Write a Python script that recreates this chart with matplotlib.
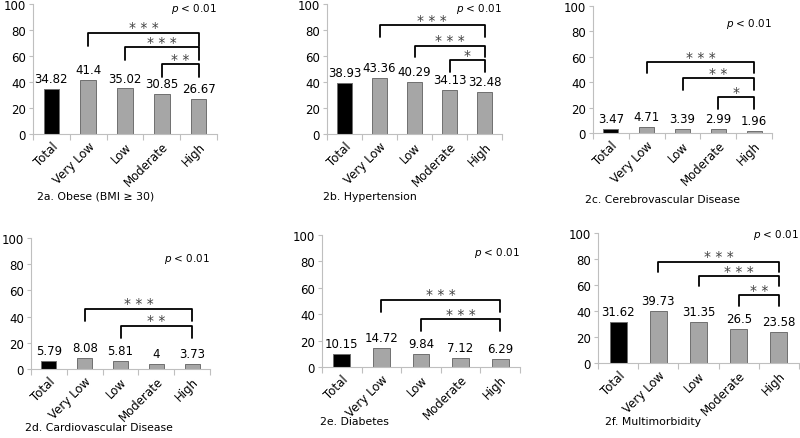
import matplotlib
matplotlib.use("Agg")
import matplotlib.pyplot as plt

plt.rcParams["font.family"] = ["Liberation Sans Narrow", "DejaVu Sans"]

# ── data ─────────────────────────────────────────────────────────────────────
categories = ["Total", "Very Low", "Low", "Moderate", "High"]

obese = [34.82, 41.4, 35.02, 30.85, 26.67]
hypertension = [38.93, 43.36, 40.29, 34.13, 32.48]
cerebro = [3.47, 4.71, 3.39, 2.99, 1.96]
cardio = [5.79, 8.08, 5.81, 4, 3.73]
diabetes = [10.15, 14.72, 9.84, 7.12, 6.29]
multimorb = [31.62, 39.73, 31.35, 26.5, 23.58]

titles = ["2a. Obese (BMI \u2265 30)", "2b. Hypertension", "2c. Cerebrovascular Disease",
          "2d. Cardiovascular Disease", "2e. Diabetes", "2f. Multimorbidity"]

# significance brackets: (from category, to category, stars)
sig_a = [("Very Low", "High", "***"), ("Low", "High", "***"), ("Moderate", "High", "**")]
sig_b = [("Very Low", "High", "***"), ("Low", "High", "***"), ("Moderate", "High", "*")]
sig_c = [("Very Low", "High", "***"), ("Low", "High", "**"), ("Moderate", "High", "*")]
sig_d = [("Very Low", "High", "***"), ("Low", "High", "**")]
sig_e = [("Very Low", "High", "***"), ("Low", "High", "***")]
sig_f = [("Very Low", "High", "***"), ("Low", "High", "***"), ("Moderate", "High", "**")]

# ── layout: axes box in px (x0, x1, ytop, ybottom), bracket tops, leg, p_y, title xy
W, H = 800, 439
panels = [
    (obese, sig_a, titles[0], (33, 217, 5, 135), [78, 67, 54], 10, 97, (37, 197)),
    (hypertension, sig_b, titles[1], (327, 502, 5, 135), [84, 68, 57], 9, 97, (323, 197)),
    (cerebro, sig_c, titles[2], (593, 772, 7, 134), [56, 43, 28], 9, 87, (585, 200)),
    (cardio, sig_d, titles[3], (31, 210, 239, 370), [46, 33], 9, 85, (25, 428)),
    (diabetes, sig_e, titles[4], (322, 520, 236, 368), [51, 36], 9, 87, (320, 422)),
    (multimorb, sig_f, titles[5], (598, 799, 234, 364), [78, 67, 52], 8, 99, (605, 422)),
]

AX_COL = "#bfbfbf"
BAR_GRAY = "#a6a6a6"

fig = plt.figure(figsize=(8, 4.39), dpi=100)

for values, sig, title, box, tops, leg, p_y, title_xy in panels:
    x0, x1, yt, yb = box
    ax = fig.add_axes([x0 / W, 1 - yb / H, (x1 - x0) / W, (yb - yt) / H])
    xs = range(len(categories))
    colors = ["black"] + [BAR_GRAY] * (len(categories) - 1)
    ax.bar(xs, values, width=0.42, color=colors, edgecolor="#6f6f6f", lw=0.7)
    for x, v in zip(xs, values):
        ax.text(x, v + 3, f"{v:g}", ha="center", va="bottom", fontsize=8.5)

    ax.set_xlim(-0.5, len(categories) - 0.5)
    ax.set_ylim(0, 100)
    ax.set_yticks([0, 20, 40, 60, 80, 100])
    ax.tick_params(axis="y", labelsize=8.5, length=3, color=AX_COL, pad=2)

    # tick marks on category boundaries, labels at centres
    ax.set_xticks([i - 0.5 for i in range(len(categories) + 1)])
    ax.set_xticklabels([])
    ax.set_xticks(list(xs), minor=True)
    ax.set_xticklabels(categories, minor=True, rotation=45, ha="right",
                       rotation_mode="anchor", fontsize=8.5)
    ax.tick_params(axis="x", which="major", length=4, color=AX_COL, direction="out")
    ax.tick_params(axis="x", which="minor", length=0, pad=4)

    for side in ["top", "right"]:
        ax.spines[side].set_visible(False)
    for side in ["left", "bottom"]:
        ax.spines[side].set_color(AX_COL)
        ax.spines[side].set_linewidth(0.8)

    # significance brackets
    for (c_from, c_to, stars), top in zip(sig, tops):
        i0, i1 = categories.index(c_from), categories.index(c_to)
        ax.plot([i0, i0, i1, i1], [top - leg, top, top, top - leg], color="black",
                lw=1.3, solid_joinstyle="round", solid_capstyle="round", clip_on=False)
        ax.text((i0 + i1) / 2, top + 1, " ".join(stars), ha="center", va="baseline",
                fontsize=10, color="#404040")

    ax.text(1.0, p_y, r"$\it{p}$ < 0.01", transform=ax.get_yaxis_transform(),
            ha="right", va="center", fontsize=7.5)

    fig.text(title_xy[0] / W, 1 - title_xy[1] / H, title, ha="left", va="center",
             fontsize=7.8)

fig.savefig("out.png", dpi=100)
